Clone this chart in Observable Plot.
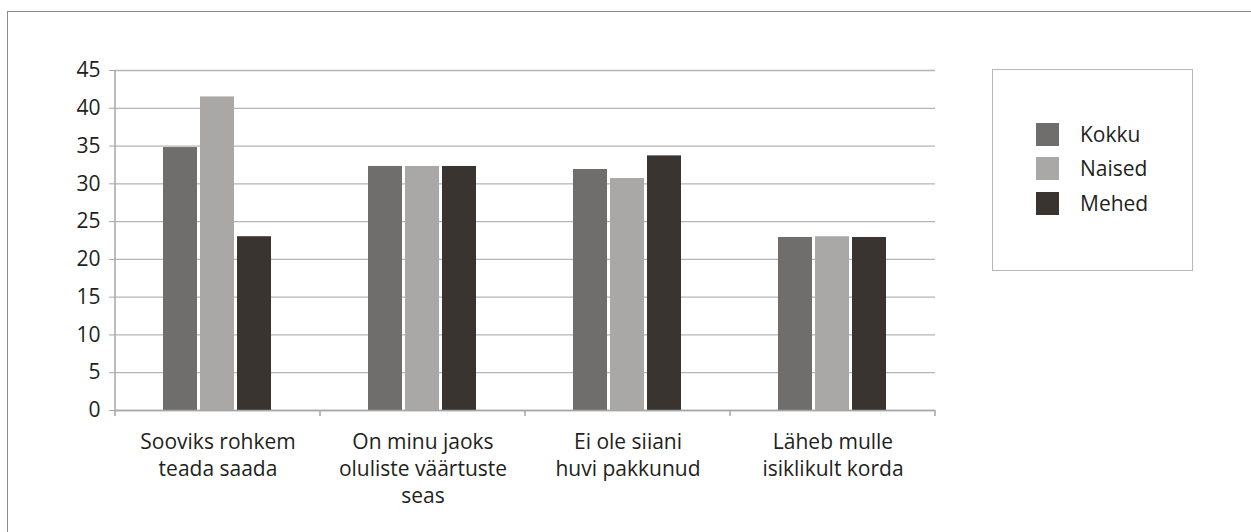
<!DOCTYPE html>
<html>
<head>
<meta charset="utf-8">
<script src="https://cdn.jsdelivr.net/npm/d3@7"></script>
<script src="https://cdn.jsdelivr.net/npm/@observablehq/plot@0.6"></script>
<style>
  body { margin: 0; background: #fff; }
  #wrap { position: relative; width: 1251px; height: 532px; overflow: hidden; font-family: "Open Sans", "Noto Sans", sans-serif; color: #231f20; }
  #border { position: absolute; left: 7px; top: 11px; width: 1300px; height: 600px; border: 1.5px solid #8c8c8c; box-sizing: border-box; }
  #chart { position: absolute; left: 0; top: 0; }
  #legend { position: absolute; left: 992px; top: 69px; width: 201px; height: 202px; border: 1.5px solid #b8b8b8; box-sizing: border-box; }
  .item { position: absolute; left: 43px; display: flex; align-items: center; font-size: 21px; line-height: 23px; }
  .sw { width: 23px; height: 23px; margin-right: 21px; flex: none; }
</style>
</head>
<body>
<div id="wrap">
  <div id="border"></div>
  <div id="chart"></div>
  <div id="legend"></div>
</div>
<script>
const categories = [
  "Sooviks rohkem\nteada saada",
  "On minu jaoks\noluliste väärtuste\nseas",
  "Ei ole siiani\nhuvi pakkunud",
  "Läheb mulle\nisiklikult korda"
];
const series = ["Kokku", "Naised", "Mehed"];
const kokku = [34.8, 32.3, 31.9, 22.9];
const naised = [41.5, 32.3, 30.7, 23.0];
const mehed = [23.0, 32.3, 33.7, 22.9];
const colors = ["#706e6c", "#a9a8a6", "#3a3431"];
const yTicks = [0, 5, 10, 15, 20, 25, 30, 35, 40, 45];

const valuesBySeries = [kokku, naised, mehed];
const data = [];
categories.forEach((c, i) => {
  series.forEach((s, j) => data.push({category: c, series: s, value: valuesBySeries[j][i]}));
});

const plot = Plot.plot({
  width: 1251,
  height: 532,
  marginLeft: 115,
  marginRight: 316,
  marginTop: 70,
  marginBottom: 122,
  style: {fontFamily: "'Open Sans', 'Noto Sans', sans-serif", fontSize: "21px", color: "#231f20", background: "transparent"},
  fx: {domain: categories, padding: 0, label: null},
  x: {domain: series, paddingInner: 0.07, paddingOuter: 1.24, axis: null, label: null},
  y: {domain: [0, 45], label: null},
  color: {domain: series, range: colors},
  marks: [
    Plot.gridY(yTicks, {stroke: "#b5b5b5", strokeOpacity: 1, strokeWidth: 1.3}),
    Plot.barY(data, {fx: "category", x: "series", y: "value", fill: "series"}),
    Plot.ruleY([0], {stroke: "#a6a6a6", strokeWidth: 1.5}),
    Plot.axisY(yTicks, {tickSize: 6, tickPadding: 9, stroke: "#a6a6a6", fill: "#231f20", fontSize: 21, label: null}),
    Plot.axisFx({anchor: "bottom", tickSize: 0, tickPadding: 19, lineHeight: 1.29, fill: "#231f20", fontSize: 21, label: null})
  ]
});
document.getElementById("chart").appendChild(plot);

// Y axis line and category boundary ticks, from the plot's own scales
const svg = d3.select(plot);
const fx = plot.scale("fx");
const y = plot.scale("y");
const y0 = y.apply(0), yTop = y.apply(45);
const g = svg.append("g").attr("stroke", "#a6a6a6").attr("stroke-width", 1.5);
const left = fx.apply(categories[0]);
g.append("line").attr("x1", left).attr("x2", left).attr("y1", yTop).attr("y2", y0);
const edges = categories.map(c => fx.apply(c)).concat([fx.apply(categories[categories.length - 1]) + fx.bandwidth]);
edges.forEach(e => g.append("line").attr("x1", e).attr("x2", e).attr("y1", y0).attr("y2", y0 + 6));

// Legend
const legend = document.getElementById("legend");
series.forEach((s, j) => {
  const item = document.createElement("div");
  item.className = "item";
  item.style.top = (53 + j * 34.4) + "px";
  item.innerHTML = `<div class="sw" style="background:${colors[j]}"></div><span>${s}</span>`;
  legend.appendChild(item);
});
</script>
</body>
</html>
